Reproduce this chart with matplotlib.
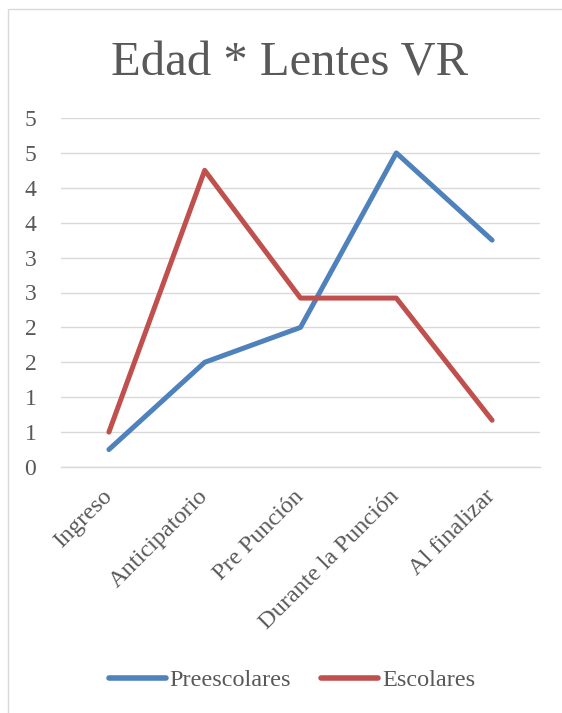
import matplotlib
matplotlib.use("Agg")
import matplotlib.pyplot as plt
from matplotlib.patches import Rectangle
from matplotlib.ticker import FixedLocator, FuncFormatter
import math

categories = ["Ingreso", "Anticipatorio", "Pre Punción", "Durante la Punción", "Al finalizar"]
preescolares = [0.25, 1.5, 2.0, 4.5, 3.25]
escolares = [0.5, 4.25, 2.42, 2.42, 0.67]
yticks = [0, 0.5, 1, 1.5, 2, 2.5, 3, 3.5, 4, 4.5, 5]

BLUE = "#4F81BD"
RED = "#C0504D"
TXT = "#595959"
GRID = "#D9D9D9"
SERIF = ["Liberation Serif", "DejaVu Serif"]

W, H = 562, 713
fig = plt.figure(figsize=(W / 100, H / 100), dpi=100)
fig.patch.set_facecolor("white")

# outer chart border (right and bottom edges lie outside the image)
fig.add_artist(Rectangle((8 / W, -0.05), 1.0, 1.05 - 9 / H,
                         transform=fig.transFigure, fill=False,
                         edgecolor=GRID, linewidth=1.0))

ax = fig.add_axes([61 / W, 1 - 467 / H, (540 - 61) / W, (467 - 118) / H])
x = list(range(len(categories)))
ax.plot(x, preescolares, color=BLUE, linewidth=3.6, solid_capstyle="round",
        solid_joinstyle="round", label="Preescolares", zorder=3)
ax.plot(x, escolares, color=RED, linewidth=3.6, solid_capstyle="round",
        solid_joinstyle="round", label="Escolares", zorder=3)

ax.set_xlim(-0.5, len(categories) - 0.5)
ax.set_ylim(0, 5)
ax.yaxis.set_major_locator(FixedLocator(yticks))
ax.yaxis.set_major_formatter(FuncFormatter(lambda v, p: str(int(math.floor(v + 0.5)))))
ax.grid(axis="y", color=GRID, linewidth=1.0)
ax.set_axisbelow(True)
for s in ["top", "right", "left"]:
    ax.spines[s].set_visible(False)
ax.spines["bottom"].set_color(GRID)
ax.spines["bottom"].set_linewidth(1.0)
ax.tick_params(axis="both", length=0, colors=TXT)
ax.tick_params(axis="y", pad=22)
ax.tick_params(axis="x", pad=19)
ax.set_xticks(x)
ax.set_xticklabels(categories, rotation=45, ha="right", va="center",
                   rotation_mode="anchor")
for lbl in ax.get_xticklabels():
    lbl.set_fontfamily(SERIF)
    lbl.set_fontsize(17.5)
    lbl.set_color(TXT)
for lbl in ax.get_yticklabels():
    lbl.set_fontfamily(SERIF)
    lbl.set_fontsize(17)
    lbl.set_color(TXT)
    lbl.set_horizontalalignment("center")

fig.text(290 / W, 1 - 75 / H, "Edad * Lentes VR", ha="center", va="baseline",
         fontsize=35, color=TXT, family=SERIF)

leg = fig.legend(loc="center", bbox_to_anchor=(292 / W, 1 - 680 / H), ncol=2,
                 frameon=False, prop={"family": SERIF, "size": 17.5},
                 handlelength=2.35, columnspacing=1.25, handletextpad=0.15)
for t in leg.get_texts():
    t.set_color(TXT)
for l in leg.get_lines():
    l.set_linewidth(4.0)
    l.set_solid_capstyle("round")

fig.savefig("out.png", dpi=100, facecolor="white")
